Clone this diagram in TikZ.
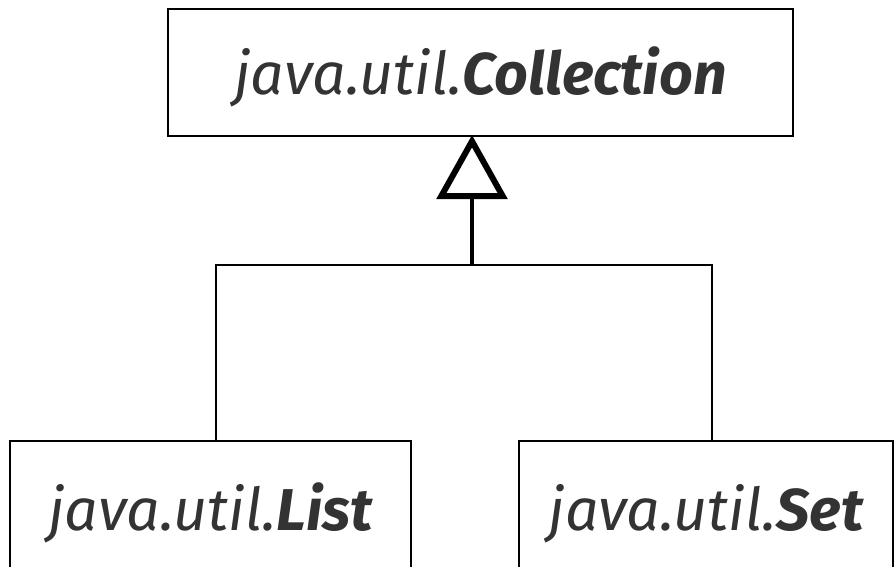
\documentclass[tikz,border=0pt]{standalone}
\usepackage{fontspec}
\setmainfont{Fira Sans}
\usetikzlibrary{arrows.meta,positioning}
\definecolor{textgray}{HTML}{333333}
\tikzset{
  iface/.style={draw,line width=2pt,inner sep=0pt,text=textgray,
    text height=44pt,text depth=0pt,
    font=\fontsize{59}{64}\selectfont\itshape},
  generalization/.style={-{Triangle[open,length=64pt,width=70pt,line width=6pt]},line width=3.5pt},
  branch/.style={line width=2pt}
}

\begin{document}
\begin{tikzpicture}[x=1pt,y=-1pt]
  \useasboundingbox (0,0) rectangle (894,566);
  \clip (0,0) rectangle (894,566);
  % interfaces
  \node[iface,minimum width=625pt,minimum height=127pt] (coll) at (480.5,72.5) {java.util.\textbf{Collection}};
  \node[iface,minimum width=401pt,minimum height=134pt] (list) at (210.5,508) {java.util.\textbf{List}};
  \node[iface,minimum width=374pt,minimum height=134pt] (set) at (706,508) {java.util.\textbf{Set}};
  % inheritance
  \coordinate (join) at (472,265);
  \draw[branch] ([xshift=5.5pt]list.north) |- (join) -| ([xshift=6pt]set.north);
  \draw[generalization] (join) -- ([yshift=2pt]coll.south -| join);
\end{tikzpicture}
\end{document}
